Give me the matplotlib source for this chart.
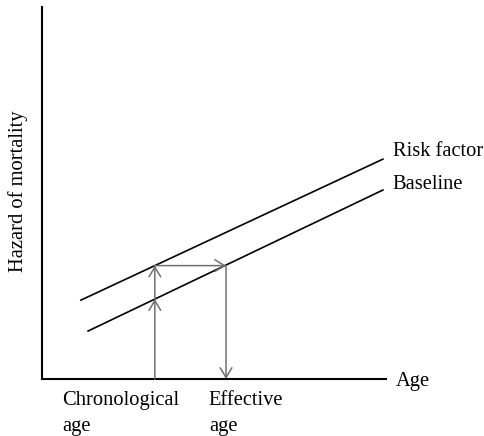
import numpy as np
import matplotlib
matplotlib.use("Agg")
import matplotlib.pyplot as plt

# schematic data (arbitrary units: age 0..10, hazard 0..10)
risk_age = [1.13, 9.91]
risk_hazard = [2.12, 5.91]
base_age = [1.34, 9.91]
base_hazard = [1.29, 5.08]
chrono_age = 3.28
effective_age = 5.35

plt.rcParams["font.family"] = ["Liberation Serif", "DejaVu Serif"]

fig = plt.figure(figsize=(4.85, 4.36), dpi=100)
ax = fig.add_axes([42 / 485, 57 / 436, 344 / 485, 372 / 436])
ax.set_xlim(0, 10)
ax.set_ylim(0, 10)
for s in ("top", "right"):
    ax.spines[s].set_visible(False)
for s in ("left", "bottom"):
    ax.spines[s].set_linewidth(1.5)
ax.set_xticks([])
ax.set_yticks([])

ax.plot(risk_age, risk_hazard, color="black", lw=1.2)
ax.plot(base_age, base_hazard, color="black", lw=1.2)

h_base = np.interp(chrono_age, base_age, base_hazard)
h_risk = np.interp(chrono_age, risk_age, risk_hazard)

arrow = dict(arrowstyle="->,head_length=0.5,head_width=0.3", color="#707070",
             lw=1.1, mutation_scale=14, shrinkA=0, shrinkB=0)
ax.annotate("", xy=(chrono_age, h_base), xytext=(chrono_age, 0), arrowprops=arrow)
ax.annotate("", xy=(chrono_age, h_risk), xytext=(chrono_age, h_base), arrowprops=arrow)
ax.annotate("", xy=(effective_age, h_risk), xytext=(chrono_age, h_risk), arrowprops=arrow)
ax.annotate("", xy=(effective_age, 0), xytext=(effective_age, h_risk), arrowprops=arrow)

fs = 14.8
ax.text(10.2, risk_hazard[1] + 0.2, "Risk factor", fontsize=fs, va="center", ha="left", clip_on=False)
ax.text(10.2, base_hazard[1] + 0.14, "Baseline", fontsize=fs, va="center", ha="left", clip_on=False)
ax.text(10.29, -0.08, "Age", fontsize=fs, va="center", ha="left", clip_on=False)
ax.text(0.58, -0.33, "Chronological\nage", fontsize=fs, va="top", ha="left",
        linespacing=1.5, clip_on=False)
ax.text(4.85, -0.33, "Effective\nage", fontsize=fs, va="top", ha="left",
        linespacing=1.5, clip_on=False)
fig.text(18 / 485, 1 - 191 / 436, "Hazard of mortality", fontsize=fs,
         rotation=90, va="center", ha="center")

fig.savefig("out.png", dpi=100)
